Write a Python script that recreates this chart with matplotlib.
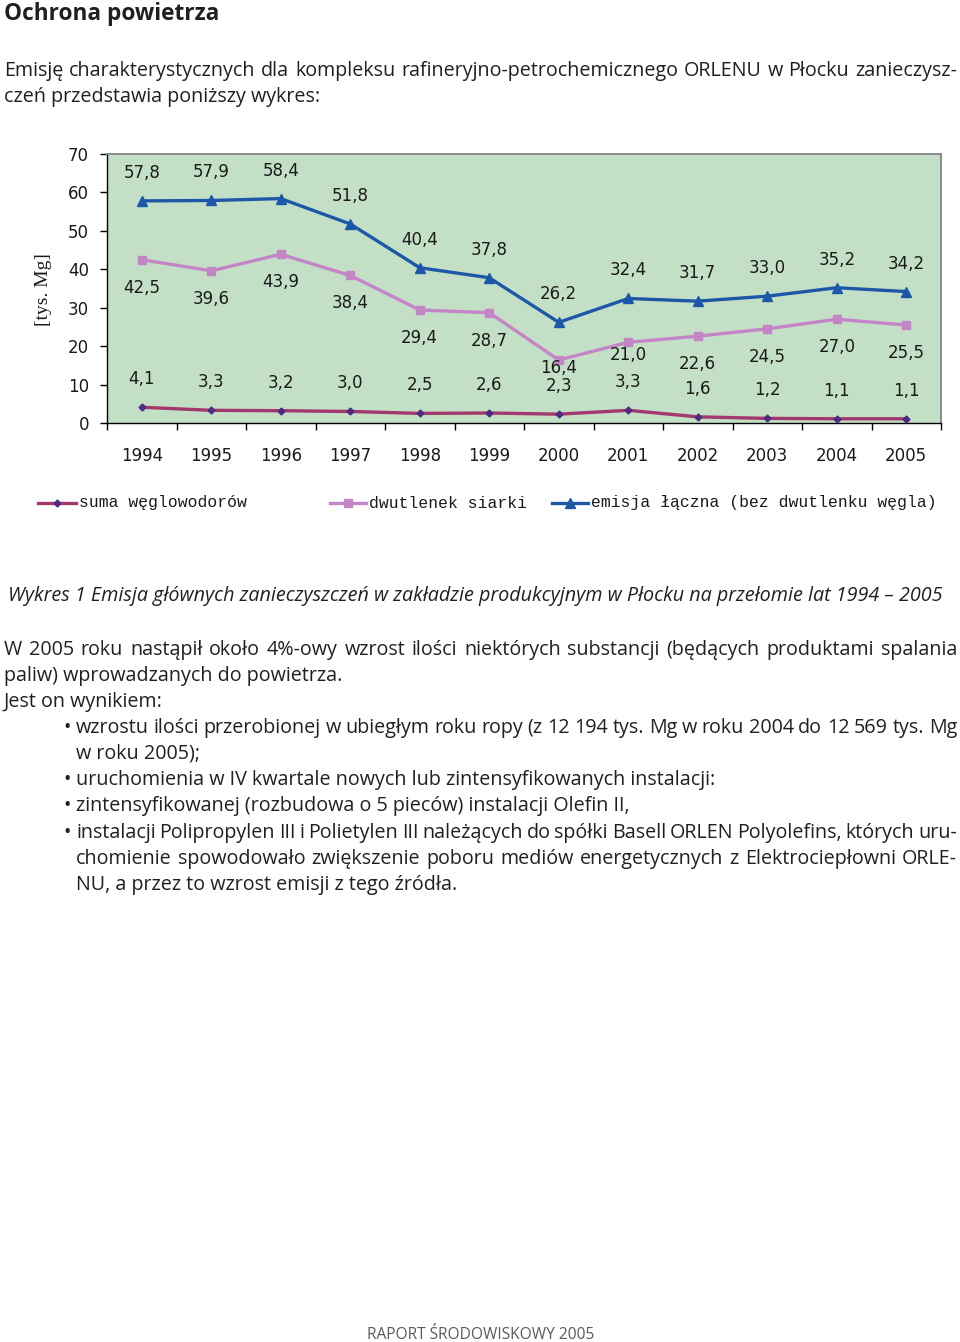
import matplotlib
matplotlib.use("Agg")
import matplotlib.pyplot as plt
from matplotlib.lines import Line2D

# ---- data ----
years = ["1994", "1995", "1996", "1997", "1998", "1999",
         "2000", "2001", "2002", "2003", "2004", "2005"]
hc = [4.1, 3.3, 3.2, 3.0, 2.5, 2.6, 2.3, 3.3, 1.6, 1.2, 1.1, 1.1]
so2 = [42.5, 39.6, 43.9, 38.4, 29.4, 28.7, 16.4, 21.0, 22.6, 24.5, 27.0, 25.5]
total = [57.8, 57.9, 58.4, 51.8, 40.4, 37.8, 26.2, 32.4, 31.7, 33.0, 35.2, 34.2]
series_names = ["suma węglowodorów", "dwutlenek siarki",
                "emisja łączna (bez dwutlenku węgla)"]
y_ticks = [0, 10, 20, 30, 40, 50, 60, 70]

# data-label offsets in pixels (label placement only)
hc_off = [28] * 12
so2_off = [-28, -28, -28, -28, -28, -28, -8, -13, -28, -28, -28, -28]
total_off = [28] * 12

W, H = 960, 1342
fig = plt.figure(figsize=(W / 100, H / 100), dpi=100)
fig.patch.set_facecolor("white")
rend = fig.canvas.get_renderer()

BODY = "Open Sans"
INK = "#231f20"


def fx(p):
    return p / W


def fy(p):
    return 1 - p / H


def text_width(s, **kw):
    t = fig.text(0, 0, s, **kw)
    w = t.get_window_extent(renderer=rend).width
    t.remove()
    return w


def fit_size(s, width, **kw):
    return 10 * width / text_width(s, size=10, **kw)


def squeeze_size(s, width, squeeze=0.7, **kw):
    # size at which the words fit with spaces squeezed to `squeeze` of normal
    words = s.split(" ")
    ww = sum(text_width(w, size=10, **kw) for w in words)
    sp = text_width("a a", size=10, **kw) - text_width("aa", size=10, **kw)
    return 10 * width / (ww + squeeze * sp * (len(words) - 1))


def put_line(x0, x1, base, s, justify=False, **kw):
    if not justify:
        fig.text(fx(x0), fy(base), s, va="baseline", ha="left", **kw)
        return
    words = s.split(" ")
    widths = [text_width(w, **kw) for w in words]
    gap = (x1 - x0 - sum(widths)) / (len(words) - 1)
    x = x0
    for w, wd in zip(words, widths):
        fig.text(fx(x), fy(base), w, va="baseline", ha="left", **kw)
        x += wd + gap


# ---- chart ----
ax = fig.add_axes([fx(107), fy(423), (941 - 107) / W, (423 - 154) / H])
ax.set_facecolor("#c3e0c6")
xs = list(range(len(years)))

l_hc, = ax.plot(xs, hc, color="#a3386c", lw=2.4, marker="D", ms=3.5,
                mfc="#4b2c82", mec="#4b2c82", zorder=3)
l_so2, = ax.plot(xs, so2, color="#c385c6", lw=2.4, marker="s", ms=5.5,
                 mfc="#c385c6", mec="#c385c6", zorder=3)
l_tot, = ax.plot(xs, total, color="#1d58a8", lw=2.4, marker="^", ms=6.5,
                 mfc="#1d58a8", mec="#1d58a8", zorder=3)

ax.set_xlim(-0.5, len(years) - 0.5)
ax.set_ylim(0, 70)
ax.set_yticks(y_ticks)
ax.set_xticks([i - 0.5 for i in range(len(years) + 1)])
ax.set_xticklabels([])
ax.set_xticks(xs, minor=True)
ax.set_xticklabels(years, minor=True)
ax.tick_params(axis="x", which="major", direction="out", length=5, width=1)
ax.tick_params(axis="x", which="minor", length=0, pad=17, labelsize=12,
               labelcolor="#1a1a1a")
ax.tick_params(axis="y", direction="out", length=5, width=1, pad=8,
               labelsize=12, labelcolor="#1a1a1a")
for side in ("top", "right"):
    ax.spines[side].set_color("#8a8a8a")
    ax.spines[side].set_linewidth(1.4)
for side in ("left", "bottom"):
    ax.spines[side].set_color("black")
    ax.spines[side].set_linewidth(1)


def lab(v):
    return f"{v:.1f}".replace(".", ",")


for vals, offs in ((total, total_off), (so2, so2_off), (hc, hc_off)):
    for i in xs:
        ax.annotate(lab(vals[i]), (i, vals[i]), xytext=(0, offs[i]),
                    textcoords="offset pixels", ha="center", va="center",
                    fontsize=12, color="#1a1a1a")

fig.text(fx(43), fy(290), "[tys. Mg]", rotation=90, ha="center", va="center",
         family="Liberation Serif", size=14, color="#1a1a1a")

# legend drawn under the chart
ly = fy(503)
for (a, b), line, name in zip(((38, 76), (330, 366), (552, 588)),
                              (l_hc, l_so2, l_tot), series_names):
    fig.add_artist(Line2D([fx(a), fx(b)], [ly, ly], transform=fig.transFigure,
                          color=line.get_color(), lw=2.4))
    fig.add_artist(Line2D([fx((a + b) / 2)], [ly], transform=fig.transFigure,
                          marker=line.get_marker(), ms=line.get_markersize(),
                          mfc=line.get_markerfacecolor(),
                          mec=line.get_markeredgecolor(), lw=0))
    fig.text(fx(b + 3), ly, name, va="center", ha="left",
             family="Liberation Mono", size=11.8, color="#1a1a1a")

# ---- page text ----
title = "Ochrona powietrza"
fig.text(fx(4), fy(20), title, va="baseline", ha="left", family=BODY,
         weight="bold", color=INK,
         size=fit_size(title, 216, family=BODY, weight="bold"))

intro = [
    ("Emisję charakterystycznych dla kompleksu rafineryjno-petrochemicznego "
     "ORLENU w Płocku zanieczysz-", 4, 957, 76, True),
    ("czeń przedstawia poniższy wykres:", 4, 957, 102, False),
]
body = [
    ("W 2005 roku nastąpił około 4%-owy wzrost ilości niektórych substancji "
     "(będących produktami spalania", 4, 957, 655, True),
    ("paliw) wprowadzanych do powietrza.", 4, 957, 681, False),
    ("Jest on wynikiem:", 4, 957, 707, False),
    ("wzrostu ilości przerobionej w ubiegłym roku ropy (z 12 194 tys. Mg "
     "w roku 2004 do 12 569 tys. Mg", 76, 957, 733, True),
    ("w roku 2005);", 76, 957, 759, False),
    ("uruchomienia w IV kwartale nowych lub zintensyfikowanych instalacji:",
     76, 957, 785, False),
    ("zintensyfikowanej (rozbudowa o 5 pieców) instalacji Olefin II,",
     76, 957, 811, False),
    ("instalacji Polipropylen III i Polietylen III należących do spółki "
     "Basell ORLEN Polyolefins, których uru-", 76, 957, 838, True),
    ("chomienie spowodowało zwiększenie poboru mediów energetycznych "
     "z Elektrociepłowni ORLE-", 76, 957, 864, True),
    ("NU, a przez to wzrost emisji z tego źródła.", 76, 957, 890, False),
]
bullets = [733, 785, 811, 838]

lines = intro + body
body_size = min(squeeze_size(s, x1 - x0, family=BODY)
                for s, x0, x1, _, j in lines if j)
for s, x0, x1, base, j in lines:
    put_line(x0, x1, base, s, j, family=BODY, size=body_size, color=INK)
for base in bullets:
    fig.text(fx(63), fy(base), "•", va="baseline", ha="left", family=BODY,
             size=body_size, color=INK)

caption = ("Wykres 1 Emisja głównych zanieczyszczeń w zakładzie produkcyjnym "
           "w Płocku na przełomie lat 1994 – 2005")
fig.text(fx(8), fy(601), caption, va="baseline", ha="left", family=BODY,
         style="italic", color=INK,
         size=fit_size(caption, 932, family=BODY, style="italic"))

footer = "RAPORT ŚRODOWISKOWY 2005"
fig.text(fx(367), fy(1339), footer, va="baseline", ha="left", family=BODY,
         color="#5a5a5a", size=fit_size(footer, 228, family=BODY))

fig.savefig("out.png", dpi=100)
